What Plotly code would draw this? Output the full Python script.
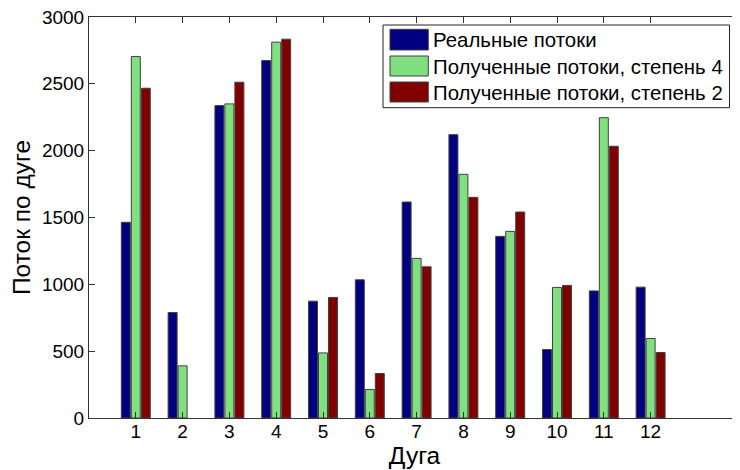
import plotly.graph_objects as go

arcs = [1, 2, 3, 4, 5, 6, 7, 8, 9, 10, 11, 12]
real_flows = [1464, 789, 2337, 2674, 874, 1034, 1616, 2120, 1359, 512, 951, 979]
deg4_flows = [2704, 390, 2350, 2812, 487, 213, 1194, 1823, 1396, 977, 2247, 595]
deg2_flows = [2467, 0, 2512, 2834, 902, 333, 1131, 1651, 1541, 992, 2033, 490]

names = ["Реальные потоки", "Полученные потоки, степень 4", "Полученные потоки, степень 2"]
colors = ["#000080", "#80e080", "#800000"]

# the page body has an 8px margin, so the figure is made 8px smaller
OFF = 8
W, H = 740 - OFF, 470 - OFF
L, R, T, B = 89 - OFF, 0, 17 - OFF, 52
PW, PH = W - L - R, H - T - B


def px(x):
    return (x - OFF - L) / PW


def py(y):
    return (H - B - (y - OFF)) / PH


font_family = "Liberation Sans, Arial, sans-serif"

fig = go.Figure()
for name, vals, col in zip(names, [real_flows, deg4_flows, deg2_flows], colors):
    fig.add_trace(go.Bar(
        x=arcs, y=vals, name=name, showlegend=False,
        marker=dict(color=col,
                    line=dict(color="#404040",
                              width=[0 if v == 0 else 1 for v in vals])),
    ))

shapes = [dict(type="rect", xref="paper", yref="paper",
               x0=px(383), x1=px(729.5), y0=py(25), y1=py(107.7),
               line=dict(color="#222", width=1), fillcolor="white", layer="above")]
annotations = []
rows = [(29.3, 50), (56, 76), (82, 102)]
for (y0, y1), name, col in zip(rows, names, colors):
    shapes.append(dict(type="rect", xref="paper", yref="paper",
                       x0=px(390), x1=px(428.3), y0=py(y1), y1=py(y0),
                       line=dict(color="#404040", width=1), fillcolor=col,
                       layer="above"))
    annotations.append(dict(xref="paper", yref="paper", x=px(431),
                            y=py((y0 + y1) / 2 + 0.5), xanchor="left",
                            yanchor="middle", text=name, showarrow=False,
                            font=dict(size=20.4, family=font_family, color="black")))

fig.update_layout(
    width=W, height=H,
    margin=dict(l=L, r=R, t=T, b=B, autoexpand=False),
    paper_bgcolor="white", plot_bgcolor="white",
    barmode="group", bargap=0.36, bargroupgap=0.1,
    font=dict(family=font_family, size=19, color="black"),
    showlegend=False,
    shapes=shapes, annotations=annotations,
    xaxis=dict(
        range=[0, 13.91], tickvals=arcs, ticktext=[str(a) for a in arcs],
        ticks="inside", ticklen=6, tickcolor="#333", showline=True,
        linecolor="#333", linewidth=1, mirror="ticks", showgrid=False,
        zeroline=False, tickfont=dict(size=19), ticklabelstandoff=-4,
        ticklabeloverflow="allow",
        title=dict(text="Дуга", font=dict(size=24.5), standoff=3),
    ),
    yaxis=dict(
        range=[0, 3000], tickvals=[0, 500, 1000, 1500, 2000, 2500, 3000],
        ticks="inside", ticklen=6, tickcolor="#333", showline=True,
        linecolor="#333", linewidth=1, mirror="ticks", showgrid=False,
        zeroline=False, tickfont=dict(size=19), ticklabeloverflow="allow",
        title=dict(text="Поток по дуге", font=dict(size=24.5), standoff=11),
    ),
)

fig.write_html("out.html")
